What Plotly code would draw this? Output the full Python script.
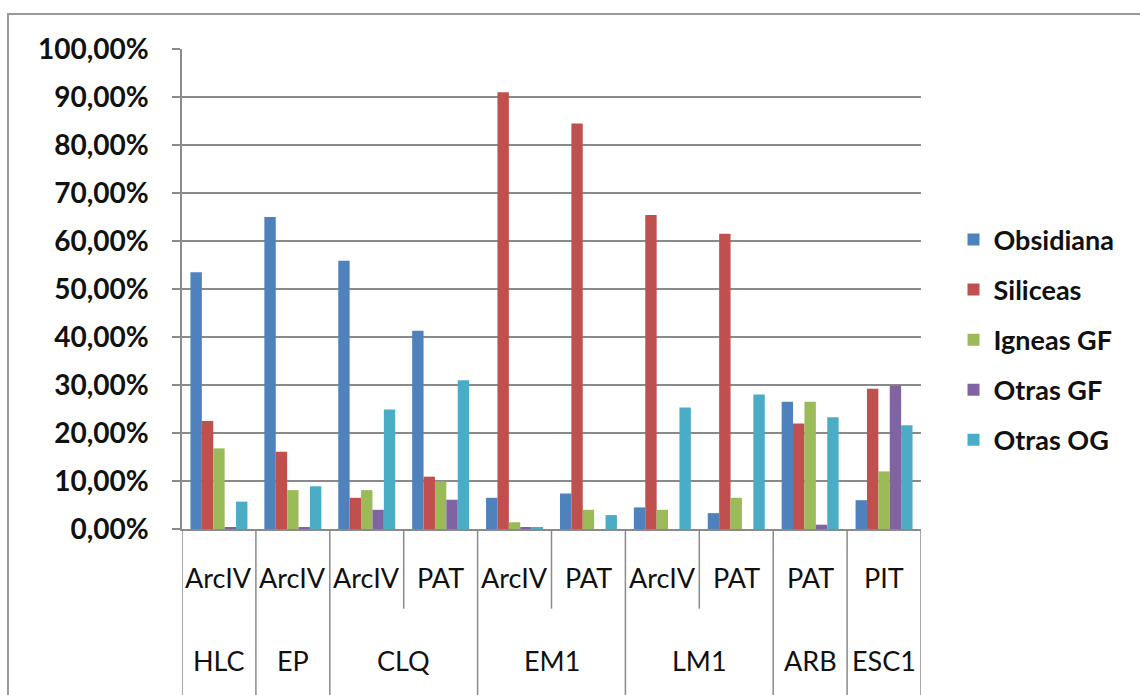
import plotly.graph_objects as go

# Sites (outer level) and periods (inner level) of the category axis
sites = ["HLC", "EP", "CLQ", "CLQ", "EM1", "EM1", "LM1", "LM1", "ARB", "ESC1"]
periods = ["ArcIV", "ArcIV", "ArcIV", "PAT", "ArcIV", "PAT", "ArcIV", "PAT", "PAT", "PIT"]

# Share of each raw material per site/period (percent)
obsidiana = [53.5, 65.0, 55.9, 41.3, 6.5, 7.4, 4.5, 3.3, 26.5, 6.0]
siliceas = [22.5, 16.1, 6.5, 10.9, 91.0, 84.5, 65.4, 61.5, 22.0, 29.2]
igneas_gf = [16.8, 8.1, 8.1, 9.9, 1.4, 4.0, 4.0, 6.5, 26.5, 12.0]
otras_gf = [0.4, 0.3, 4.0, 6.1, 0.3, 0.0, 0.0, 0.0, 0.9, 29.9]
otras_og = [5.7, 8.9, 24.9, 31.0, 0.3, 2.9, 25.3, 28.0, 23.3, 21.6]

series = [
    ("Obsidiana", obsidiana, "#4F81BD"),
    ("Siliceas", siliceas, "#C0504D"),
    ("Igneas GF", igneas_gf, "#9BBB59"),
    ("Otras GF", otras_gf, "#8064A2"),
    ("Otras OG", otras_og, "#4BACC6"),
]

keys = [f"{s} {p}" for s, p in zip(sites, periods)]
FONT = "Lato"
GRID = "#8a8a8a"

fig = go.Figure()
for name, vals, color in series:
    fig.add_trace(go.Bar(
        x=keys, y=[v / 100 for v in vals], name=name,
        marker=dict(color=color, line=dict(width=0)),
        legendgroup=name,
    ))

# Axis labels below the plot: period row, then site row
annotations = []
for k, p in zip(keys, periods):
    annotations.append(dict(x=k, y=-0.102, xref="x", yref="paper", text=p,
                            showarrow=False, yanchor="middle",
                            font=dict(family=FONT, size=27, color="#111")))

# Group sites into spans of consecutive categories
spans = []
start = 0
for i in range(1, len(sites) + 1):
    if i == len(sites) or sites[i] != sites[start]:
        spans.append((sites[start], start, i - 1))
        start = i
for name, a, b in spans:
    annotations.append(dict(x=(a + b) / 2, y=-0.273, xref="x", yref="paper", text=name,
                            showarrow=False, yanchor="middle",
                            font=dict(family=FONT, size=27, color="#111")))

# Separator lines in the label area
shapes = []
group_edges = {a for _, a, _ in spans} | {len(sites)}
for i in range(len(sites) + 1):
    long_line = i in group_edges
    shapes.append(dict(type="line", xref="x", yref="paper",
                       x0=i - 0.5, x1=i - 0.5, y0=0, y1=-0.36 if long_line else -0.166,
                       line=dict(color=GRID, width=1.5)))

# Chart area frame
shapes.append(dict(type="rect", xref="paper", yref="paper",
                   x0=-0.2355, x1=1.4, y0=-0.6, y1=1.0729,
                   line=dict(color="#9a9a9a", width=2), layer="below"))

fig.update_layout(
    width=1140, height=695,
    margin=dict(l=182, r=219, t=49, b=166),
    paper_bgcolor="white", plot_bgcolor="white",
    separators=",.",
    barmode="group", bargap=0.229, bargroupgap=0,
    font=dict(family=FONT, color="#111"),
    showlegend=True,
    legend=dict(x=1.044, xanchor="left", y=0.394, yanchor="middle",
                font=dict(family=FONT, size=27, weight="bold", color="#111"),
                tracegroupgap=12, bgcolor="rgba(0,0,0,0)"),
    annotations=annotations,
    shapes=shapes,
    xaxis=dict(showticklabels=False, showgrid=False, showline=True,
               linecolor=GRID, linewidth=1.5, ticks="", zeroline=False,
               range=[-0.5, len(keys) - 0.5]),
    yaxis=dict(range=[0, 1.0], dtick=0.1, tickformat=".2%",
               showgrid=True, gridcolor=GRID, gridwidth=1.5,
               showline=True, linecolor=GRID, linewidth=1.5,
               ticks="outside", ticklen=8, tickcolor=GRID, tickwidth=1.5,
               ticklabelstandoff=18, zeroline=False,
               tickfont=dict(family=FONT, size=28, weight="bold", color="#111")),
)

fig.write_html("out.html")
